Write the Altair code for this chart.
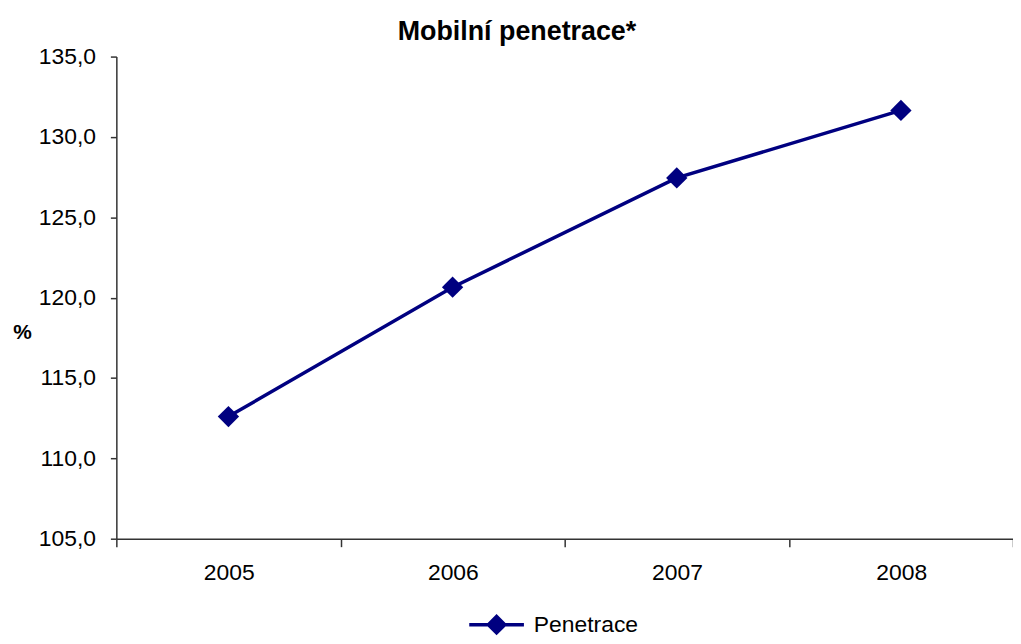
import altair as alt
import pandas as pd

years = [2005, 2006, 2007, 2008]
values = [112.6, 120.65, 127.45, 131.65]
series_name = ["Penetrace"] * 4
y_ticks = [105, 110, 115, 120, 125, 130, 135]
x_boundaries = [2004.5, 2005.5, 2006.5, 2007.5, 2008.5]

df = pd.DataFrame({"rok": years, "hodnota": values, "serie": series_name})

NAVY = "#000080"
FONT = "Liberation Sans"

legend_symbol = "M-1,0L1,0M0,-0.3L0.3,0L0,0.3L-0.3,0Z"

chart = alt.Chart(df).mark_line(
    strokeWidth=3.5,
    point=alt.OverlayMarkDef(shape="diamond", size=460, filled=True, color=NAVY),
).encode(
    x=alt.X(
        "rok:Q",
        scale=alt.Scale(domain=[2004.5, 2008.5], nice=False, zero=False),
        axis=alt.Axis(
            values=x_boundaries,
            labelExpr="datum.value < 2008 ? format(datum.value + 0.5, 'd') : ''",
            labelOffset=113,
            labelBound=False,
            labelFlush=False,
            labelOverlap=False,
            tickSize=8,
            labelPadding=15,
            grid=False,
            title=None,
        ),
    ),
    y=alt.Y(
        "hodnota:Q",
        scale=alt.Scale(domain=[105, 135], nice=False, zero=False),
        axis=alt.Axis(
            values=y_ticks,
            labelExpr="replace(format(datum.value, '.1f'), '.', ',')",
            tickSize=6,
            labelPadding=15,
            grid=False,
            title="%",
            titleAngle=0,
            titleX=-95,
            titleY=278,
            titleAlign="center",
            titleBaseline="middle",
            titleFontSize=21,
            titleFontWeight="bold",
        ),
    ),
    color=alt.Color(
        "serie:N",
        scale=alt.Scale(range=[NAVY]),
        legend=alt.Legend(
            title=None,
            orient="none",
            legendX=353,
            legendY=542,
            symbolType=legend_symbol,
            symbolSize=3025,
            symbolStrokeWidth=3.5,
            symbolStrokeColor=NAVY,
            symbolFillColor=NAVY,
            labelFontSize=23,
            labelFont=FONT,
            labelColor="#000000",
            labelOffset=8,
        ),
    ),
).properties(
    width=902,
    height=485,
    title=alt.TitleParams(
        "Mobilní penetrace*",
        fontSize=27,
        fontWeight="bold",
        font=FONT,
        color="#000000",
        anchor="middle",
        dx=-48,
        offset=0,
    ),
    autosize=alt.AutoSizeParams(type="none"),
    padding={"left": 109, "top": 47, "right": 0, "bottom": 96},
).configure_view(
    stroke=None
).configure_axis(
    labelFont=FONT,
    titleFont=FONT,
    labelFontSize=23,
    labelColor="#000000",
    titleColor="#000000",
    domainColor="#333333",
    tickColor="#333333",
    domainWidth=1.5,
    tickWidth=1.5,
)

chart.save("out.html", embed_options={"renderer": "svg", "actions": False})
